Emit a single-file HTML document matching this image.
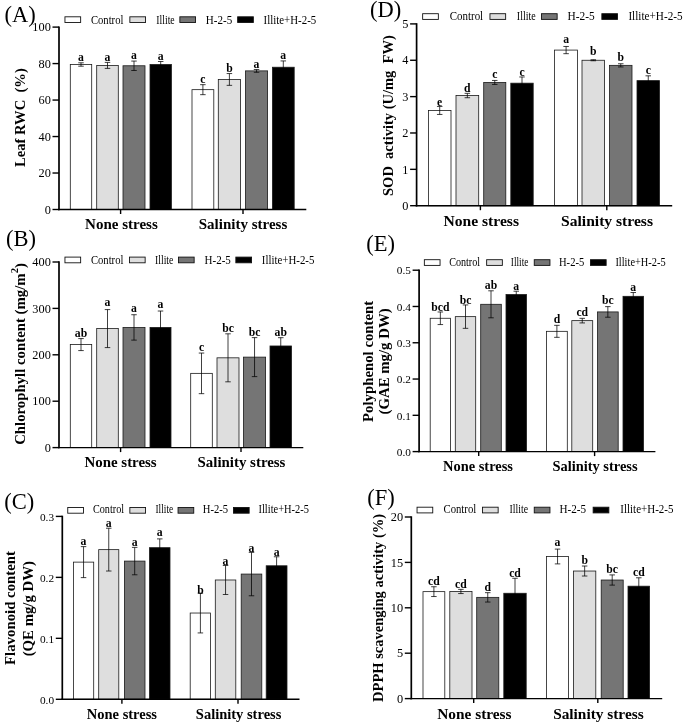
<!DOCTYPE html><html><head><meta charset="utf-8"><title>Figure</title>
<style>html,body{margin:0;padding:0;background:#fff;}body{width:685px;height:724px;overflow:hidden;font-family:"Liberation Serif",serif;}svg{display:block;}text{font-family:"Liberation Serif",serif;fill:#000;}</style></head><body>
<svg style="filter:blur(0.35px)" width="685" height="724" viewBox="0 0 685 724">
<rect x="0" y="0" width="685" height="724" fill="#fff"/>
<g>
<rect x="70.3" y="64.49" width="21.4" height="145.01" fill="#ffffff" stroke="#1a1a1a" stroke-width="0.8"/>
<path d="M81 62.79V66.19M78.25 62.79H83.75M78.25 66.19H83.75" stroke="#000" stroke-width="0.75" fill="none"/>
<text transform="translate(81 61.19) scale(0.9 1)" font-size="13" font-weight="bold" text-anchor="middle">a</text>
<rect x="96.7" y="65.4" width="21.6" height="144.1" fill="#dedede" stroke="#1a1a1a" stroke-width="0.8"/>
<path d="M107.5 62.4V68.4M104.75 62.4H110.25M104.75 68.4H110.25" stroke="#000" stroke-width="0.75" fill="none"/>
<text transform="translate(107.5 60.8) scale(0.9 1)" font-size="13" font-weight="bold" text-anchor="middle">a</text>
<rect x="123" y="65.77" width="22" height="143.73" fill="#757575" stroke="#1a1a1a" stroke-width="0.8"/>
<path d="M134 61.07V70.47M131.25 61.07H136.75M131.25 70.47H136.75" stroke="#000" stroke-width="0.75" fill="none"/>
<text transform="translate(134 59.47) scale(0.9 1)" font-size="13" font-weight="bold" text-anchor="middle">a</text>
<rect x="150" y="64.49" width="21.4" height="145.01" fill="#000000" stroke="#1a1a1a" stroke-width="0.8"/>
<path d="M160.7 61.49V67.49M157.95 61.49H163.45M157.95 67.49H163.45" stroke="#000" stroke-width="0.75" fill="none"/>
<text transform="translate(160.7 59.89) scale(0.9 1)" font-size="13" font-weight="bold" text-anchor="middle">a</text>
<rect x="192" y="89.66" width="21.8" height="119.84" fill="#ffffff" stroke="#1a1a1a" stroke-width="0.8"/>
<path d="M202.9 84.66V94.66M200.15 84.66H205.65M200.15 94.66H205.65" stroke="#000" stroke-width="0.75" fill="none"/>
<text transform="translate(202.9 83.06) scale(0.9 1)" font-size="13" font-weight="bold" text-anchor="middle">c</text>
<rect x="218.3" y="79.45" width="22.2" height="130.05" fill="#dedede" stroke="#1a1a1a" stroke-width="0.8"/>
<path d="M229.4 73.55V85.35M226.65 73.55H232.15M226.65 85.35H232.15" stroke="#000" stroke-width="0.75" fill="none"/>
<text transform="translate(229.4 71.95) scale(0.9 1)" font-size="13" font-weight="bold" text-anchor="middle">b</text>
<rect x="245.5" y="70.88" width="22.1" height="138.62" fill="#757575" stroke="#1a1a1a" stroke-width="0.8"/>
<path d="M256.55 69.48V72.28M253.8 69.48H259.3M253.8 72.28H259.3" stroke="#000" stroke-width="0.75" fill="none"/>
<text transform="translate(256.55 67.88) scale(0.9 1)" font-size="13" font-weight="bold" text-anchor="middle">a</text>
<rect x="272.4" y="67.23" width="21.8" height="142.27" fill="#000000" stroke="#1a1a1a" stroke-width="0.8"/>
<path d="M283.3 60.93V73.53M280.55 60.93H286.05M280.55 73.53H286.05" stroke="#000" stroke-width="0.75" fill="none"/>
<text transform="translate(283.3 59.33) scale(0.9 1)" font-size="13" font-weight="bold" text-anchor="middle">a</text>
<path d="M59 26.4V210.22" stroke="#000" stroke-width="1.7" fill="none"/>
<path d="M58.15 209.5H306.3" stroke="#000" stroke-width="1.45" fill="none"/>
<path d="M52.5 209.5H59" stroke="#000" stroke-width="1.4"/>
<text transform="translate(50.8 213.7) scale(1 1)" font-size="12.3" text-anchor="end">0</text>
<path d="M52.5 173.02H59" stroke="#000" stroke-width="1.4"/>
<text transform="translate(50.8 177.22) scale(1 1)" font-size="12.3" text-anchor="end">20</text>
<path d="M52.5 136.54H59" stroke="#000" stroke-width="1.4"/>
<text transform="translate(50.8 140.74) scale(1 1)" font-size="12.3" text-anchor="end">40</text>
<path d="M52.5 100.06H59" stroke="#000" stroke-width="1.4"/>
<text transform="translate(50.8 104.26) scale(1 1)" font-size="12.3" text-anchor="end">60</text>
<path d="M52.5 63.58H59" stroke="#000" stroke-width="1.4"/>
<text transform="translate(50.8 67.78) scale(1 1)" font-size="12.3" text-anchor="end">80</text>
<path d="M52.5 27.1H59" stroke="#000" stroke-width="1.4"/>
<text transform="translate(50.8 31.3) scale(1 1)" font-size="12.3" text-anchor="end">100</text>
<path d="M120.6 209.5V214" stroke="#000" stroke-width="1.4"/>
<text x="121.4" y="228.6" font-size="15" font-weight="bold" text-anchor="middle">None stress</text>
<path d="M243 209.5V214" stroke="#000" stroke-width="1.4"/>
<text x="243" y="228.6" font-size="15" font-weight="bold" text-anchor="middle">Salinity stress</text>
<rect x="64.95" y="16.8" width="15.7" height="5.7" fill="#ffffff" stroke="#111" stroke-width="0.9"/>
<text x="91" y="23.6" font-size="11.8" textLength="32.4" lengthAdjust="spacingAndGlyphs">Control</text>
<rect x="129.85" y="16.8" width="15.7" height="5.7" fill="#dedede" stroke="#111" stroke-width="0.9"/>
<text x="156.3" y="23.6" font-size="11.8" textLength="18.4" lengthAdjust="spacingAndGlyphs">Illite</text>
<rect x="179.85" y="16.8" width="15.7" height="5.7" fill="#757575" stroke="#111" stroke-width="0.9"/>
<text x="205.8" y="23.6" font-size="11.8" textLength="26.4" lengthAdjust="spacingAndGlyphs">H-2-5</text>
<rect x="237.65" y="16.8" width="15.7" height="5.7" fill="#000000" stroke="#111" stroke-width="0.9"/>
<text x="263.6" y="23.6" font-size="11.8" textLength="52.6" lengthAdjust="spacingAndGlyphs">Illite+H-2-5</text>
<text transform="translate(24.9 117.6) rotate(-90)" font-size="14.6" font-weight="bold" text-anchor="middle">Leaf RWC  (%)</text>
<text x="4.5" y="21.7" font-size="22.5">(A)</text>
</g>
<g>
<rect x="70.3" y="344.59" width="21.4" height="103.01" fill="#ffffff" stroke="#1a1a1a" stroke-width="0.8"/>
<path d="M81 338.59V350.59M78.25 338.59H83.75M78.25 350.59H83.75" stroke="#000" stroke-width="0.75" fill="none"/>
<text transform="translate(81 336.99) scale(0.9 1)" font-size="13" font-weight="bold" text-anchor="middle">ab</text>
<rect x="96.7" y="328.58" width="21.6" height="119.02" fill="#dedede" stroke="#1a1a1a" stroke-width="0.8"/>
<path d="M107.5 309.58V347.58M104.75 309.58H110.25M104.75 347.58H110.25" stroke="#000" stroke-width="0.75" fill="none"/>
<text transform="translate(107.5 305.98) scale(0.9 1)" font-size="13" font-weight="bold" text-anchor="middle">a</text>
<rect x="123" y="327.42" width="22" height="120.18" fill="#757575" stroke="#1a1a1a" stroke-width="0.8"/>
<path d="M134 314.72V340.12M131.25 314.72H136.75M131.25 340.12H136.75" stroke="#000" stroke-width="0.75" fill="none"/>
<text transform="translate(134 312.32) scale(0.9 1)" font-size="13" font-weight="bold" text-anchor="middle">a</text>
<rect x="150" y="327.42" width="21" height="120.18" fill="#000000" stroke="#1a1a1a" stroke-width="0.8"/>
<path d="M160.5 311.02V343.82M157.75 311.02H163.25M157.75 343.82H163.25" stroke="#000" stroke-width="0.75" fill="none"/>
<text transform="translate(160.5 308.22) scale(0.9 1)" font-size="13" font-weight="bold" text-anchor="middle">a</text>
<rect x="190.7" y="373.36" width="21.6" height="74.24" fill="#ffffff" stroke="#1a1a1a" stroke-width="0.8"/>
<path d="M201.5 353.06V393.66M198.75 353.06H204.25M198.75 393.66H204.25" stroke="#000" stroke-width="0.75" fill="none"/>
<text transform="translate(201.5 351.46) scale(0.9 1)" font-size="13" font-weight="bold" text-anchor="middle">c</text>
<rect x="217" y="357.82" width="22" height="89.78" fill="#dedede" stroke="#1a1a1a" stroke-width="0.8"/>
<path d="M228 333.82V381.82M225.25 333.82H230.75M225.25 381.82H230.75" stroke="#000" stroke-width="0.75" fill="none"/>
<text transform="translate(228 331.82) scale(0.9 1)" font-size="13" font-weight="bold" text-anchor="middle">bc</text>
<rect x="243.5" y="357.12" width="22.1" height="90.48" fill="#757575" stroke="#1a1a1a" stroke-width="0.8"/>
<path d="M254.55 337.62V376.62M251.8 337.62H257.3M251.8 376.62H257.3" stroke="#000" stroke-width="0.75" fill="none"/>
<text transform="translate(254.55 335.72) scale(0.9 1)" font-size="13" font-weight="bold" text-anchor="middle">bc</text>
<rect x="270" y="345.98" width="21.5" height="101.62" fill="#000000" stroke="#1a1a1a" stroke-width="0.8"/>
<path d="M280.75 337.68V354.28M278 337.68H283.5M278 354.28H283.5" stroke="#000" stroke-width="0.75" fill="none"/>
<text transform="translate(280.75 335.78) scale(0.9 1)" font-size="13" font-weight="bold" text-anchor="middle">ab</text>
<path d="M59 261.3V448.33" stroke="#000" stroke-width="1.7" fill="none"/>
<path d="M58.15 447.6H303.3" stroke="#000" stroke-width="1.45" fill="none"/>
<path d="M52.5 447.6H59" stroke="#000" stroke-width="1.4"/>
<text transform="translate(50.8 451.8) scale(1 1)" font-size="12.3" text-anchor="end">0</text>
<path d="M52.5 401.2H59" stroke="#000" stroke-width="1.4"/>
<text transform="translate(50.8 405.4) scale(1 1)" font-size="12.3" text-anchor="end">100</text>
<path d="M52.5 354.8H59" stroke="#000" stroke-width="1.4"/>
<text transform="translate(50.8 359) scale(1 1)" font-size="12.3" text-anchor="end">200</text>
<path d="M52.5 308.4H59" stroke="#000" stroke-width="1.4"/>
<text transform="translate(50.8 312.6) scale(1 1)" font-size="12.3" text-anchor="end">300</text>
<path d="M52.5 262H59" stroke="#000" stroke-width="1.4"/>
<text transform="translate(50.8 266.2) scale(1 1)" font-size="12.3" text-anchor="end">400</text>
<path d="M120.6 447.6V452.1" stroke="#000" stroke-width="1.4"/>
<text x="120.6" y="466.9" font-size="14.9" font-weight="bold" text-anchor="middle">None stress</text>
<path d="M241 447.6V452.1" stroke="#000" stroke-width="1.4"/>
<text x="241.5" y="466.9" font-size="14.9" font-weight="bold" text-anchor="middle">Salinity stress</text>
<rect x="64.95" y="257.1" width="15.7" height="5.7" fill="#ffffff" stroke="#111" stroke-width="0.9"/>
<text x="91" y="264.3" font-size="11.8" textLength="32.4" lengthAdjust="spacingAndGlyphs">Control</text>
<rect x="129.45" y="257.1" width="15.7" height="5.7" fill="#dedede" stroke="#111" stroke-width="0.9"/>
<text x="155" y="264.3" font-size="11.8" textLength="18.4" lengthAdjust="spacingAndGlyphs">Illite</text>
<rect x="178.45" y="257.1" width="15.7" height="5.7" fill="#757575" stroke="#111" stroke-width="0.9"/>
<text x="204.5" y="264.3" font-size="11.8" textLength="26.4" lengthAdjust="spacingAndGlyphs">H-2-5</text>
<rect x="235.85" y="257.1" width="15.7" height="5.7" fill="#000000" stroke="#111" stroke-width="0.9"/>
<text x="261.8" y="264.3" font-size="11.8" textLength="52.6" lengthAdjust="spacingAndGlyphs">Illite+H-2-5</text>
<text transform="translate(25.4 354) rotate(-90)" font-size="14.8" font-weight="bold" text-anchor="middle">Chlorophyll content (mg/m<tspan dy="-7.3" font-size="10.5">2</tspan><tspan dy="7.3">)</tspan></text>
<text x="6" y="246.2" font-size="22.5">(B)</text>
</g>
<g>
<rect x="73.4" y="562.12" width="20.3" height="137.17" fill="#ffffff" stroke="#1a1a1a" stroke-width="0.8"/>
<path d="M83.55 546.62V577.62M80.8 546.62H86.3M80.8 577.62H86.3" stroke="#000" stroke-width="0.75" fill="none"/>
<text transform="translate(83.55 545.32) scale(0.9 1)" font-size="13" font-weight="bold" text-anchor="middle">a</text>
<rect x="98.7" y="549.63" width="20.1" height="149.67" fill="#dedede" stroke="#1a1a1a" stroke-width="0.8"/>
<path d="M108.75 528.23V571.03M106 528.23H111.5M106 571.03H111.5" stroke="#000" stroke-width="0.75" fill="none"/>
<text transform="translate(108.75 526.93) scale(0.9 1)" font-size="13" font-weight="bold" text-anchor="middle">a</text>
<rect x="124.4" y="561.09" width="20.6" height="138.21" fill="#757575" stroke="#1a1a1a" stroke-width="0.8"/>
<path d="M134.7 547.39V574.79M131.95 547.39H137.45M131.95 574.79H137.45" stroke="#000" stroke-width="0.75" fill="none"/>
<text transform="translate(134.7 545.99) scale(0.9 1)" font-size="13" font-weight="bold" text-anchor="middle">a</text>
<rect x="149.5" y="547.68" width="20.5" height="151.62" fill="#000000" stroke="#1a1a1a" stroke-width="0.8"/>
<path d="M159.75 538.88V556.48M157 538.88H162.5M157 556.48H162.5" stroke="#000" stroke-width="0.75" fill="none"/>
<text transform="translate(159.75 536.28) scale(0.9 1)" font-size="13" font-weight="bold" text-anchor="middle">a</text>
<rect x="190.2" y="613.03" width="20.4" height="86.27" fill="#ffffff" stroke="#1a1a1a" stroke-width="0.8"/>
<path d="M200.4 593.13V632.93M197.65 593.13H203.15M197.65 632.93H203.15" stroke="#000" stroke-width="0.75" fill="none"/>
<text transform="translate(200.4 593.53) scale(0.9 1)" font-size="13" font-weight="bold" text-anchor="middle">b</text>
<rect x="215.3" y="579.99" width="20.5" height="119.31" fill="#dedede" stroke="#1a1a1a" stroke-width="0.8"/>
<path d="M225.55 565.49V594.49M222.8 565.49H228.3M222.8 594.49H228.3" stroke="#000" stroke-width="0.75" fill="none"/>
<text transform="translate(225.55 564.89) scale(0.9 1)" font-size="13" font-weight="bold" text-anchor="middle">a</text>
<rect x="241.2" y="574.07" width="20.6" height="125.23" fill="#757575" stroke="#1a1a1a" stroke-width="0.8"/>
<path d="M251.5 552.37V595.77M248.75 552.37H254.25M248.75 595.77H254.25" stroke="#000" stroke-width="0.75" fill="none"/>
<text transform="translate(251.5 551.77) scale(0.9 1)" font-size="13" font-weight="bold" text-anchor="middle">a</text>
<rect x="266.2" y="565.78" width="20.8" height="133.52" fill="#000000" stroke="#1a1a1a" stroke-width="0.8"/>
<path d="M276.6 556.78V574.78M273.85 556.78H279.35M273.85 574.78H279.35" stroke="#000" stroke-width="0.75" fill="none"/>
<text transform="translate(276.6 555.78) scale(0.9 1)" font-size="13" font-weight="bold" text-anchor="middle">a</text>
<path d="M62.3 515.7V700.02" stroke="#000" stroke-width="1.7" fill="none"/>
<path d="M61.45 699.3H299.5" stroke="#000" stroke-width="1.45" fill="none"/>
<path d="M55.8 699.3H62.3" stroke="#000" stroke-width="1.4"/>
<text transform="translate(54.1 703.5) scale(1 1)" font-size="11.3" text-anchor="end">0.0</text>
<path d="M55.8 638.33H62.3" stroke="#000" stroke-width="1.4"/>
<text transform="translate(54.1 642.53) scale(1 1)" font-size="11.3" text-anchor="end">0.1</text>
<path d="M55.8 577.37H62.3" stroke="#000" stroke-width="1.4"/>
<text transform="translate(54.1 581.57) scale(1 1)" font-size="11.3" text-anchor="end">0.2</text>
<path d="M55.8 516.4H62.3" stroke="#000" stroke-width="1.4"/>
<text transform="translate(54.1 520.6) scale(1 1)" font-size="11.3" text-anchor="end">0.3</text>
<path d="M121.9 699.3V703.8" stroke="#000" stroke-width="1.4"/>
<text x="121.9" y="719" font-size="14.5" font-weight="bold" text-anchor="middle">None stress</text>
<path d="M238 699.3V703.8" stroke="#000" stroke-width="1.4"/>
<text x="238.6" y="719" font-size="14.5" font-weight="bold" text-anchor="middle">Salinity stress</text>
<rect x="67.75" y="507.5" width="15.7" height="5.7" fill="#ffffff" stroke="#111" stroke-width="0.9"/>
<text x="93" y="513.4" font-size="11.8" textLength="31.1" lengthAdjust="spacingAndGlyphs">Control</text>
<rect x="129.85" y="507.5" width="15.7" height="5.7" fill="#dedede" stroke="#111" stroke-width="0.9"/>
<text x="155.5" y="513.4" font-size="11.8" textLength="17.66" lengthAdjust="spacingAndGlyphs">Illite</text>
<rect x="178.05" y="507.5" width="15.7" height="5.7" fill="#757575" stroke="#111" stroke-width="0.9"/>
<text x="202.8" y="513.4" font-size="11.8" textLength="25.34" lengthAdjust="spacingAndGlyphs">H-2-5</text>
<rect x="233.45" y="507.5" width="15.7" height="5.7" fill="#000000" stroke="#111" stroke-width="0.9"/>
<text x="258.5" y="513.4" font-size="11.8" textLength="50.5" lengthAdjust="spacingAndGlyphs">Illite+H-2-5</text>
<text transform="translate(15.3 608) rotate(-90)" font-size="14.8" font-weight="bold" text-anchor="middle">Flavonoid content</text>
<text transform="translate(33 608.7) rotate(-90)" font-size="14.8" font-weight="bold" text-anchor="middle">(QE mg/g DW)</text>
<text x="4.2" y="508.6" font-size="22.5">(C)</text>
</g>
<g>
<rect x="428.4" y="110.44" width="22.6" height="95.26" fill="#ffffff" stroke="#1a1a1a" stroke-width="0.8"/>
<path d="M439.7 106.44V114.44M436.95 106.44H442.45M436.95 114.44H442.45" stroke="#000" stroke-width="0.75" fill="none"/>
<text transform="translate(439.7 105.54) scale(0.9 1)" font-size="13" font-weight="bold" text-anchor="middle">e</text>
<rect x="456" y="95.53" width="22.7" height="110.17" fill="#dedede" stroke="#1a1a1a" stroke-width="0.8"/>
<path d="M467.35 93.33V97.73M464.6 93.33H470.1M464.6 97.73H470.1" stroke="#000" stroke-width="0.75" fill="none"/>
<text transform="translate(467.35 91.73) scale(0.9 1)" font-size="13" font-weight="bold" text-anchor="middle">d</text>
<rect x="483.7" y="82.44" width="22.1" height="123.26" fill="#757575" stroke="#1a1a1a" stroke-width="0.8"/>
<path d="M494.75 80.44V84.44M492 80.44H497.5M492 84.44H497.5" stroke="#000" stroke-width="0.75" fill="none"/>
<text transform="translate(494.75 78.24) scale(0.9 1)" font-size="13" font-weight="bold" text-anchor="middle">c</text>
<rect x="510.8" y="83.17" width="22.4" height="122.53" fill="#000000" stroke="#1a1a1a" stroke-width="0.8"/>
<path d="M522 76.97V89.37M519.25 76.97H524.75M519.25 89.37H524.75" stroke="#000" stroke-width="0.75" fill="none"/>
<text transform="translate(522 75.97) scale(0.9 1)" font-size="13" font-weight="bold" text-anchor="middle">c</text>
<rect x="554.6" y="50.08" width="23" height="155.62" fill="#ffffff" stroke="#1a1a1a" stroke-width="0.8"/>
<path d="M566.1 46.48V53.68M563.35 46.48H568.85M563.35 53.68H568.85" stroke="#000" stroke-width="0.75" fill="none"/>
<text transform="translate(566.1 42.58) scale(0.9 1)" font-size="13" font-weight="bold" text-anchor="middle">a</text>
<rect x="582" y="60.26" width="22.6" height="145.44" fill="#dedede" stroke="#1a1a1a" stroke-width="0.8"/>
<path d="M593.3 59.76V60.76M590.55 59.76H596.05M590.55 60.76H596.05" stroke="#000" stroke-width="0.75" fill="none"/>
<text transform="translate(593.3 55.36) scale(0.9 1)" font-size="13" font-weight="bold" text-anchor="middle">b</text>
<rect x="609.5" y="65.35" width="22.5" height="140.35" fill="#757575" stroke="#1a1a1a" stroke-width="0.8"/>
<path d="M620.75 63.75V66.95M618 63.75H623.5M618 66.95H623.5" stroke="#000" stroke-width="0.75" fill="none"/>
<text transform="translate(620.75 60.55) scale(0.9 1)" font-size="13" font-weight="bold" text-anchor="middle">b</text>
<rect x="637" y="80.62" width="22.5" height="125.08" fill="#000000" stroke="#1a1a1a" stroke-width="0.8"/>
<path d="M648.25 75.82V85.42M645.5 75.82H651M645.5 85.42H651" stroke="#000" stroke-width="0.75" fill="none"/>
<text transform="translate(648.25 73.92) scale(0.9 1)" font-size="13" font-weight="bold" text-anchor="middle">c</text>
<path d="M416.6 23.2V206.42" stroke="#000" stroke-width="1.7" fill="none"/>
<path d="M415.75 205.7H672.2" stroke="#000" stroke-width="1.45" fill="none"/>
<path d="M410.1 205.7H416.6" stroke="#000" stroke-width="1.4"/>
<text transform="translate(408.4 209.9) scale(1 1)" font-size="12.3" text-anchor="end">0</text>
<path d="M410.1 169.34H416.6" stroke="#000" stroke-width="1.4"/>
<text transform="translate(408.4 173.54) scale(1 1)" font-size="12.3" text-anchor="end">1</text>
<path d="M410.1 132.98H416.6" stroke="#000" stroke-width="1.4"/>
<text transform="translate(408.4 137.18) scale(1 1)" font-size="12.3" text-anchor="end">2</text>
<path d="M410.1 96.62H416.6" stroke="#000" stroke-width="1.4"/>
<text transform="translate(408.4 100.82) scale(1 1)" font-size="12.3" text-anchor="end">3</text>
<path d="M410.1 60.26H416.6" stroke="#000" stroke-width="1.4"/>
<text transform="translate(408.4 64.46) scale(1 1)" font-size="12.3" text-anchor="end">4</text>
<path d="M410.1 23.9H416.6" stroke="#000" stroke-width="1.4"/>
<text transform="translate(408.4 28.1) scale(1 1)" font-size="12.3" text-anchor="end">5</text>
<path d="M480.4 205.7V210.2" stroke="#000" stroke-width="1.4"/>
<text x="481.2" y="225.6" font-size="15.6" font-weight="bold" text-anchor="middle">None stress</text>
<path d="M606.8 205.7V210.2" stroke="#000" stroke-width="1.4"/>
<text x="607" y="225.6" font-size="15.6" font-weight="bold" text-anchor="middle">Salinity stress</text>
<rect x="422.65" y="13.7" width="15.7" height="5.7" fill="#ffffff" stroke="#111" stroke-width="0.9"/>
<text x="449.8" y="20.3" font-size="11.8" textLength="33.37" lengthAdjust="spacingAndGlyphs">Control</text>
<rect x="489.95" y="13.7" width="15.7" height="5.7" fill="#dedede" stroke="#111" stroke-width="0.9"/>
<text x="516.8" y="20.3" font-size="11.8" textLength="18.95" lengthAdjust="spacingAndGlyphs">Illite</text>
<rect x="541.45" y="13.7" width="15.7" height="5.7" fill="#757575" stroke="#111" stroke-width="0.9"/>
<text x="567.6" y="20.3" font-size="11.8" textLength="27.19" lengthAdjust="spacingAndGlyphs">H-2-5</text>
<rect x="601.85" y="13.7" width="15.7" height="5.7" fill="#000000" stroke="#111" stroke-width="0.9"/>
<text x="628.4" y="20.3" font-size="11.8" textLength="54.18" lengthAdjust="spacingAndGlyphs">Illite+H-2-5</text>
<text transform="translate(393.2 115.6) rotate(-90)" font-size="14.5" font-weight="bold" text-anchor="middle">SOD  activity (U/mg  FW)</text>
<text x="370" y="17.3" font-size="22.5">(D)</text>
</g>
<g>
<rect x="430.2" y="318.27" width="20.3" height="133.33" fill="#ffffff" stroke="#1a1a1a" stroke-width="0.8"/>
<path d="M440.35 311.97V324.57M437.6 311.97H443.1M437.6 324.57H443.1" stroke="#000" stroke-width="0.75" fill="none"/>
<text transform="translate(440.35 311.07) scale(0.9 1)" font-size="13" font-weight="bold" text-anchor="middle">bcd</text>
<rect x="455.3" y="316.64" width="20.4" height="134.96" fill="#dedede" stroke="#1a1a1a" stroke-width="0.8"/>
<path d="M465.5 304.94V328.34M462.75 304.94H468.25M462.75 328.34H468.25" stroke="#000" stroke-width="0.75" fill="none"/>
<text transform="translate(465.5 303.74) scale(0.9 1)" font-size="13" font-weight="bold" text-anchor="middle">bc</text>
<rect x="480.7" y="304.3" width="20.6" height="147.3" fill="#757575" stroke="#1a1a1a" stroke-width="0.8"/>
<path d="M491 290.8V317.8M488.25 290.8H493.75M488.25 317.8H493.75" stroke="#000" stroke-width="0.75" fill="none"/>
<text transform="translate(491 289.2) scale(0.9 1)" font-size="13" font-weight="bold" text-anchor="middle">ab</text>
<rect x="506" y="294.51" width="20.5" height="157.09" fill="#000000" stroke="#1a1a1a" stroke-width="0.8"/>
<path d="M516.25 291.21V297.81M513.5 291.21H519M513.5 297.81H519" stroke="#000" stroke-width="0.75" fill="none"/>
<text transform="translate(516.25 289.61) scale(0.9 1)" font-size="13" font-weight="bold" text-anchor="middle">a</text>
<rect x="546.5" y="331.33" width="20.8" height="120.27" fill="#ffffff" stroke="#1a1a1a" stroke-width="0.8"/>
<path d="M556.9 325.33V337.33M554.15 325.33H559.65M554.15 337.33H559.65" stroke="#000" stroke-width="0.75" fill="none"/>
<text transform="translate(556.9 322.73) scale(0.9 1)" font-size="13" font-weight="bold" text-anchor="middle">d</text>
<rect x="571.8" y="320.63" width="20.9" height="130.97" fill="#dedede" stroke="#1a1a1a" stroke-width="0.8"/>
<path d="M582.25 318.33V322.93M579.5 318.33H585M579.5 322.93H585" stroke="#000" stroke-width="0.75" fill="none"/>
<text transform="translate(582.25 315.73) scale(0.9 1)" font-size="13" font-weight="bold" text-anchor="middle">cd</text>
<rect x="597.5" y="311.92" width="20.7" height="139.68" fill="#757575" stroke="#1a1a1a" stroke-width="0.8"/>
<path d="M607.85 306.62V317.22M605.1 306.62H610.6M605.1 317.22H610.6" stroke="#000" stroke-width="0.75" fill="none"/>
<text transform="translate(607.85 304.42) scale(0.9 1)" font-size="13" font-weight="bold" text-anchor="middle">bc</text>
<rect x="623" y="296.32" width="20.5" height="155.28" fill="#000000" stroke="#1a1a1a" stroke-width="0.8"/>
<path d="M633.25 292.52V300.12M630.5 292.52H636M630.5 300.12H636" stroke="#000" stroke-width="0.75" fill="none"/>
<text transform="translate(633.25 290.92) scale(0.9 1)" font-size="13" font-weight="bold" text-anchor="middle">a</text>
<path d="M419.1 269.5V452.33" stroke="#000" stroke-width="1.7" fill="none"/>
<path d="M418.25 451.6H655.4" stroke="#000" stroke-width="1.45" fill="none"/>
<path d="M412.6 451.6H419.1" stroke="#000" stroke-width="1.4"/>
<text transform="translate(410.9 455.8) scale(1 1)" font-size="11.3" text-anchor="end">0.0</text>
<path d="M412.6 415.32H419.1" stroke="#000" stroke-width="1.4"/>
<text transform="translate(410.9 419.52) scale(1 1)" font-size="11.3" text-anchor="end">0.1</text>
<path d="M412.6 379.04H419.1" stroke="#000" stroke-width="1.4"/>
<text transform="translate(410.9 383.24) scale(1 1)" font-size="11.3" text-anchor="end">0.2</text>
<path d="M412.6 342.76H419.1" stroke="#000" stroke-width="1.4"/>
<text transform="translate(410.9 346.96) scale(1 1)" font-size="11.3" text-anchor="end">0.3</text>
<path d="M412.6 306.48H419.1" stroke="#000" stroke-width="1.4"/>
<text transform="translate(410.9 310.68) scale(1 1)" font-size="11.3" text-anchor="end">0.4</text>
<path d="M412.6 270.2H419.1" stroke="#000" stroke-width="1.4"/>
<text transform="translate(410.9 274.4) scale(1 1)" font-size="11.3" text-anchor="end">0.5</text>
<path d="M478.7 451.6V456.1" stroke="#000" stroke-width="1.4"/>
<text x="478" y="471.2" font-size="14.45" font-weight="bold" text-anchor="middle">None stress</text>
<path d="M594.6 451.6V456.1" stroke="#000" stroke-width="1.4"/>
<text x="595" y="471.2" font-size="14.45" font-weight="bold" text-anchor="middle">Salinity stress</text>
<rect x="424.35" y="259.7" width="15.7" height="5.7" fill="#ffffff" stroke="#111" stroke-width="0.9"/>
<text x="449.2" y="266.2" font-size="11.8" textLength="30.94" lengthAdjust="spacingAndGlyphs">Control</text>
<rect x="486.65" y="259.7" width="15.7" height="5.7" fill="#dedede" stroke="#111" stroke-width="0.9"/>
<text x="510.8" y="266.2" font-size="11.8" textLength="17.57" lengthAdjust="spacingAndGlyphs">Illite</text>
<rect x="534.25" y="259.7" width="15.7" height="5.7" fill="#757575" stroke="#111" stroke-width="0.9"/>
<text x="559" y="266.2" font-size="11.8" textLength="25.21" lengthAdjust="spacingAndGlyphs">H-2-5</text>
<rect x="590.45" y="259.7" width="15.7" height="5.7" fill="#000000" stroke="#111" stroke-width="0.9"/>
<text x="615.4" y="266.2" font-size="11.8" textLength="50.23" lengthAdjust="spacingAndGlyphs">Illite+H-2-5</text>
<text transform="translate(372.5 361.4) rotate(-90)" font-size="14.8" font-weight="bold" text-anchor="middle">Polyphenol content</text>
<text transform="translate(388.6 361.4) rotate(-90)" font-size="14.8" font-weight="bold" text-anchor="middle">(GAE mg/g DW)</text>
<text x="366.2" y="251.3" font-size="22.5">(E)</text>
</g>
<g>
<rect x="423" y="591.64" width="21.8" height="106.96" fill="#ffffff" stroke="#1a1a1a" stroke-width="0.8"/>
<path d="M433.9 586.74V596.54M431.15 586.74H436.65M431.15 596.54H436.65" stroke="#000" stroke-width="0.75" fill="none"/>
<text transform="translate(433.9 584.64) scale(0.9 1)" font-size="13" font-weight="bold" text-anchor="middle">cd</text>
<rect x="449.8" y="591.46" width="22.2" height="107.14" fill="#dedede" stroke="#1a1a1a" stroke-width="0.8"/>
<path d="M460.9 589.36V593.56M458.15 589.36H463.65M458.15 593.56H463.65" stroke="#000" stroke-width="0.75" fill="none"/>
<text transform="translate(460.9 587.76) scale(0.9 1)" font-size="13" font-weight="bold" text-anchor="middle">cd</text>
<rect x="476.7" y="597.36" width="22.1" height="101.24" fill="#757575" stroke="#1a1a1a" stroke-width="0.8"/>
<path d="M487.75 592.66V602.06M485 592.66H490.5M485 602.06H490.5" stroke="#000" stroke-width="0.75" fill="none"/>
<text transform="translate(487.75 591.06) scale(0.9 1)" font-size="13" font-weight="bold" text-anchor="middle">d</text>
<rect x="503.8" y="593.27" width="22.4" height="105.33" fill="#000000" stroke="#1a1a1a" stroke-width="0.8"/>
<path d="M515 578.27V608.27M512.25 578.27H517.75M512.25 608.27H517.75" stroke="#000" stroke-width="0.75" fill="none"/>
<text transform="translate(515 577.47) scale(0.9 1)" font-size="13" font-weight="bold" text-anchor="middle">cd</text>
<rect x="546.5" y="556.5" width="22.1" height="142.1" fill="#ffffff" stroke="#1a1a1a" stroke-width="0.8"/>
<path d="M557.55 549.1V563.9M554.8 549.1H560.3M554.8 563.9H560.3" stroke="#000" stroke-width="0.75" fill="none"/>
<text transform="translate(557.55 545.8) scale(0.9 1)" font-size="13" font-weight="bold" text-anchor="middle">a</text>
<rect x="573.5" y="571.03" width="22.3" height="127.57" fill="#dedede" stroke="#1a1a1a" stroke-width="0.8"/>
<path d="M584.65 566.03V576.03M581.9 566.03H587.4M581.9 576.03H587.4" stroke="#000" stroke-width="0.75" fill="none"/>
<text transform="translate(584.65 564.43) scale(0.9 1)" font-size="13" font-weight="bold" text-anchor="middle">b</text>
<rect x="601.2" y="580.02" width="22" height="118.58" fill="#757575" stroke="#1a1a1a" stroke-width="0.8"/>
<path d="M612.2 574.92V585.12M609.45 574.92H614.95M609.45 585.12H614.95" stroke="#000" stroke-width="0.75" fill="none"/>
<text transform="translate(612.2 572.72) scale(0.9 1)" font-size="13" font-weight="bold" text-anchor="middle">bc</text>
<rect x="628" y="586.19" width="21.6" height="112.41" fill="#000000" stroke="#1a1a1a" stroke-width="0.8"/>
<path d="M638.8 577.79V594.59M636.05 577.79H641.55M636.05 594.59H641.55" stroke="#000" stroke-width="0.75" fill="none"/>
<text transform="translate(638.8 576.19) scale(0.9 1)" font-size="13" font-weight="bold" text-anchor="middle">cd</text>
<path d="M411.3 516.3V699.33" stroke="#000" stroke-width="1.7" fill="none"/>
<path d="M410.45 698.6H662.2" stroke="#000" stroke-width="1.45" fill="none"/>
<path d="M404.8 698.6H411.3" stroke="#000" stroke-width="1.4"/>
<text transform="translate(403.1 702.8) scale(1 1)" font-size="12.3" text-anchor="end">0</text>
<path d="M404.8 653.2H411.3" stroke="#000" stroke-width="1.4"/>
<text transform="translate(403.1 657.4) scale(1 1)" font-size="12.3" text-anchor="end">5</text>
<path d="M404.8 607.8H411.3" stroke="#000" stroke-width="1.4"/>
<text transform="translate(403.1 612) scale(1 1)" font-size="12.3" text-anchor="end">10</text>
<path d="M404.8 562.4H411.3" stroke="#000" stroke-width="1.4"/>
<text transform="translate(403.1 566.6) scale(1 1)" font-size="12.3" text-anchor="end">15</text>
<path d="M404.8 517H411.3" stroke="#000" stroke-width="1.4"/>
<text transform="translate(403.1 521.2) scale(1 1)" font-size="12.3" text-anchor="end">20</text>
<path d="M473.7 698.6V703.1" stroke="#000" stroke-width="1.4"/>
<text x="474.4" y="718.7" font-size="15.35" font-weight="bold" text-anchor="middle">None stress</text>
<path d="M597.8 698.6V703.1" stroke="#000" stroke-width="1.4"/>
<text x="598.4" y="718.7" font-size="15.35" font-weight="bold" text-anchor="middle">Salinity stress</text>
<rect x="417.05" y="507.2" width="15.7" height="5.7" fill="#ffffff" stroke="#111" stroke-width="0.9"/>
<text x="443.5" y="513.1" font-size="11.8" textLength="32.72" lengthAdjust="spacingAndGlyphs">Control</text>
<rect x="482.45" y="507.2" width="15.7" height="5.7" fill="#dedede" stroke="#111" stroke-width="0.9"/>
<text x="509.5" y="513.1" font-size="11.8" textLength="18.58" lengthAdjust="spacingAndGlyphs">Illite</text>
<rect x="534.25" y="507.2" width="15.7" height="5.7" fill="#757575" stroke="#111" stroke-width="0.9"/>
<text x="559.5" y="513.1" font-size="11.8" textLength="26.66" lengthAdjust="spacingAndGlyphs">H-2-5</text>
<rect x="593.15" y="507.2" width="15.7" height="5.7" fill="#000000" stroke="#111" stroke-width="0.9"/>
<text x="620.3" y="513.1" font-size="11.8" textLength="53.13" lengthAdjust="spacingAndGlyphs">Illite+H-2-5</text>
<text transform="translate(383 607.9) rotate(-90)" font-size="14.5" font-weight="bold" text-anchor="middle">DPPH scavenging activity (%)</text>
<text x="367.3" y="504.9" font-size="22.5">(F)</text>
</g>
</svg></body></html>
